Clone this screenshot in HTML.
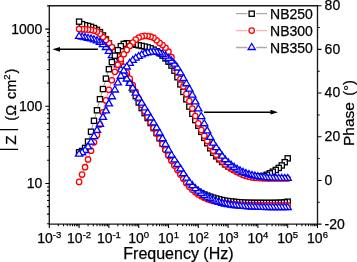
<!DOCTYPE html>
<html><head><meta charset="utf-8"><style>
html,body{margin:0;padding:0;background:#fff;}
svg{display:block;will-change:transform;}
text{font-family:"Liberation Sans",sans-serif;font-size:14px;fill:#000;stroke:#000;stroke-width:0.25px;}
</style></head><body>
<svg width="357" height="262" viewBox="0 0 357 262">
<rect width="357" height="262" fill="#fff"/>
<polyline points="79.10,21.64 82.08,24.11 85.06,25.30 88.04,25.99 91.02,26.84 94.00,28.09 96.98,29.85 99.96,32.16 102.94,35.45 105.92,39.43 108.90,43.50 111.88,48.17 114.86,53.23 117.84,59.11 120.82,65.10 123.80,70.80 126.78,76.55 129.76,82.71 132.74,89.35 135.72,96.08 138.70,102.44 141.68,108.09 144.66,113.19 147.64,118.07 150.62,123.05 153.60,128.11 156.58,133.16 159.56,138.25 162.54,143.43 165.52,148.69 168.50,153.82 171.48,158.67 174.46,163.28 177.44,167.75 180.42,172.12 183.40,176.70 186.38,181.17 189.36,184.87 192.34,187.54 195.32,189.75 198.30,191.59 201.28,193.13 204.26,194.48 207.24,195.67 210.22,196.73 213.20,197.67 216.18,198.52 219.16,199.33 222.14,200.06 225.12,200.67 228.10,201.11 231.08,201.46 234.06,201.79 237.04,202.08 240.02,202.34 243.00,202.55 245.98,202.70 248.96,202.79 251.94,202.82 254.92,202.84 257.90,202.86 260.88,202.88 263.86,202.89 266.84,202.90 269.82,202.90 272.80,202.88 275.78,202.83 278.76,202.74 281.74,202.61 284.72,202.31 287.70,201.67" fill="none" stroke="#a0a0a0" stroke-width="1"/>
<g fill="#fff" stroke="#000000" stroke-width="1.3"><rect x="285.10" y="199.07" width="5.2" height="5.2"/><rect x="282.12" y="199.71" width="5.2" height="5.2"/><rect x="279.14" y="200.01" width="5.2" height="5.2"/><rect x="276.16" y="200.14" width="5.2" height="5.2"/><rect x="273.18" y="200.23" width="5.2" height="5.2"/><rect x="270.20" y="200.28" width="5.2" height="5.2"/><rect x="267.22" y="200.30" width="5.2" height="5.2"/><rect x="264.24" y="200.30" width="5.2" height="5.2"/><rect x="261.26" y="200.29" width="5.2" height="5.2"/><rect x="258.28" y="200.28" width="5.2" height="5.2"/><rect x="255.30" y="200.26" width="5.2" height="5.2"/><rect x="252.32" y="200.24" width="5.2" height="5.2"/><rect x="249.34" y="200.22" width="5.2" height="5.2"/><rect x="246.36" y="200.19" width="5.2" height="5.2"/><rect x="243.38" y="200.10" width="5.2" height="5.2"/><rect x="240.40" y="199.95" width="5.2" height="5.2"/><rect x="237.42" y="199.74" width="5.2" height="5.2"/><rect x="234.44" y="199.48" width="5.2" height="5.2"/><rect x="231.46" y="199.19" width="5.2" height="5.2"/><rect x="228.48" y="198.86" width="5.2" height="5.2"/><rect x="225.50" y="198.51" width="5.2" height="5.2"/><rect x="222.52" y="198.07" width="5.2" height="5.2"/><rect x="219.54" y="197.46" width="5.2" height="5.2"/><rect x="216.56" y="196.73" width="5.2" height="5.2"/><rect x="213.58" y="195.92" width="5.2" height="5.2"/><rect x="210.60" y="195.07" width="5.2" height="5.2"/><rect x="207.62" y="194.13" width="5.2" height="5.2"/><rect x="204.64" y="193.07" width="5.2" height="5.2"/><rect x="201.66" y="191.88" width="5.2" height="5.2"/><rect x="198.68" y="190.53" width="5.2" height="5.2"/><rect x="195.70" y="188.99" width="5.2" height="5.2"/><rect x="192.72" y="187.15" width="5.2" height="5.2"/><rect x="189.74" y="184.94" width="5.2" height="5.2"/><rect x="186.76" y="182.27" width="5.2" height="5.2"/><rect x="183.78" y="178.57" width="5.2" height="5.2"/><rect x="180.80" y="174.10" width="5.2" height="5.2"/><rect x="177.82" y="169.52" width="5.2" height="5.2"/><rect x="174.84" y="165.15" width="5.2" height="5.2"/><rect x="171.86" y="160.68" width="5.2" height="5.2"/><rect x="168.88" y="156.07" width="5.2" height="5.2"/><rect x="165.90" y="151.22" width="5.2" height="5.2"/><rect x="162.92" y="146.09" width="5.2" height="5.2"/><rect x="159.94" y="140.83" width="5.2" height="5.2"/><rect x="156.96" y="135.65" width="5.2" height="5.2"/><rect x="153.98" y="130.56" width="5.2" height="5.2"/><rect x="151.00" y="125.51" width="5.2" height="5.2"/><rect x="148.02" y="120.45" width="5.2" height="5.2"/><rect x="145.04" y="115.47" width="5.2" height="5.2"/><rect x="142.06" y="110.59" width="5.2" height="5.2"/><rect x="139.08" y="105.49" width="5.2" height="5.2"/><rect x="136.10" y="99.84" width="5.2" height="5.2"/><rect x="133.12" y="93.48" width="5.2" height="5.2"/><rect x="130.14" y="86.75" width="5.2" height="5.2"/><rect x="127.16" y="80.11" width="5.2" height="5.2"/><rect x="124.18" y="73.95" width="5.2" height="5.2"/><rect x="121.20" y="68.20" width="5.2" height="5.2"/><rect x="118.22" y="62.50" width="5.2" height="5.2"/><rect x="115.24" y="56.51" width="5.2" height="5.2"/><rect x="112.26" y="50.63" width="5.2" height="5.2"/><rect x="109.28" y="45.57" width="5.2" height="5.2"/><rect x="106.30" y="40.90" width="5.2" height="5.2"/><rect x="103.32" y="36.83" width="5.2" height="5.2"/><rect x="100.34" y="32.85" width="5.2" height="5.2"/><rect x="97.36" y="29.56" width="5.2" height="5.2"/><rect x="94.38" y="27.25" width="5.2" height="5.2"/><rect x="91.40" y="25.49" width="5.2" height="5.2"/><rect x="88.42" y="24.24" width="5.2" height="5.2"/><rect x="85.44" y="23.39" width="5.2" height="5.2"/><rect x="82.46" y="22.70" width="5.2" height="5.2"/><rect x="79.48" y="21.51" width="5.2" height="5.2"/><rect x="76.50" y="19.04" width="5.2" height="5.2"/></g>
<polyline points="79.10,28.93 82.08,29.15 85.06,29.38 88.04,29.61 91.02,29.95 94.00,30.55 96.98,31.58 99.96,33.87 102.94,37.04 105.92,40.11 108.90,43.07 111.88,46.99 114.86,51.46 117.84,56.32 120.82,61.43 123.80,66.84 126.78,72.57 129.76,78.65 132.74,85.18 135.72,91.90 138.70,98.52 141.68,104.82 144.66,110.97 147.64,116.94 150.62,122.66 153.60,128.03 156.58,133.21 159.56,138.50 162.54,144.13 165.52,149.98 168.50,155.65 171.48,160.78 174.46,165.53 177.44,170.04 180.42,174.41 183.40,178.86 186.38,183.14 189.36,186.83 192.34,189.75 195.32,192.30 198.30,194.45 201.28,196.22 204.26,197.75 207.24,199.04 210.22,200.07 213.20,200.92 216.18,201.68 219.16,202.34 222.14,202.88 225.12,203.32 228.10,203.68 231.08,204.02 234.06,204.32 237.04,204.58 240.02,204.79 243.00,204.94 245.98,205.02 248.96,205.08 251.94,205.13 254.92,205.18 257.90,205.22 260.88,205.26 263.86,205.28 266.84,205.29 269.82,205.30 272.80,205.30 275.78,205.30 278.76,205.30 281.74,205.30 284.72,205.30 287.70,205.30" fill="none" stroke="#ff9a9a" stroke-width="1"/>
<g fill="#fff" stroke="#ff0000" stroke-width="1.3"><circle cx="287.70" cy="205.30" r="2.7"/><circle cx="284.72" cy="205.30" r="2.7"/><circle cx="281.74" cy="205.30" r="2.7"/><circle cx="278.76" cy="205.30" r="2.7"/><circle cx="275.78" cy="205.30" r="2.7"/><circle cx="272.80" cy="205.30" r="2.7"/><circle cx="269.82" cy="205.30" r="2.7"/><circle cx="266.84" cy="205.29" r="2.7"/><circle cx="263.86" cy="205.28" r="2.7"/><circle cx="260.88" cy="205.26" r="2.7"/><circle cx="257.90" cy="205.22" r="2.7"/><circle cx="254.92" cy="205.18" r="2.7"/><circle cx="251.94" cy="205.13" r="2.7"/><circle cx="248.96" cy="205.08" r="2.7"/><circle cx="245.98" cy="205.02" r="2.7"/><circle cx="243.00" cy="204.94" r="2.7"/><circle cx="240.02" cy="204.79" r="2.7"/><circle cx="237.04" cy="204.58" r="2.7"/><circle cx="234.06" cy="204.32" r="2.7"/><circle cx="231.08" cy="204.02" r="2.7"/><circle cx="228.10" cy="203.68" r="2.7"/><circle cx="225.12" cy="203.32" r="2.7"/><circle cx="222.14" cy="202.88" r="2.7"/><circle cx="219.16" cy="202.34" r="2.7"/><circle cx="216.18" cy="201.68" r="2.7"/><circle cx="213.20" cy="200.92" r="2.7"/><circle cx="210.22" cy="200.07" r="2.7"/><circle cx="207.24" cy="199.04" r="2.7"/><circle cx="204.26" cy="197.75" r="2.7"/><circle cx="201.28" cy="196.22" r="2.7"/><circle cx="198.30" cy="194.45" r="2.7"/><circle cx="195.32" cy="192.30" r="2.7"/><circle cx="192.34" cy="189.75" r="2.7"/><circle cx="189.36" cy="186.83" r="2.7"/><circle cx="186.38" cy="183.14" r="2.7"/><circle cx="183.40" cy="178.86" r="2.7"/><circle cx="180.42" cy="174.41" r="2.7"/><circle cx="177.44" cy="170.04" r="2.7"/><circle cx="174.46" cy="165.53" r="2.7"/><circle cx="171.48" cy="160.78" r="2.7"/><circle cx="168.50" cy="155.65" r="2.7"/><circle cx="165.52" cy="149.98" r="2.7"/><circle cx="162.54" cy="144.13" r="2.7"/><circle cx="159.56" cy="138.50" r="2.7"/><circle cx="156.58" cy="133.21" r="2.7"/><circle cx="153.60" cy="128.03" r="2.7"/><circle cx="150.62" cy="122.66" r="2.7"/><circle cx="147.64" cy="116.94" r="2.7"/><circle cx="144.66" cy="110.97" r="2.7"/><circle cx="141.68" cy="104.82" r="2.7"/><circle cx="138.70" cy="98.52" r="2.7"/><circle cx="135.72" cy="91.90" r="2.7"/><circle cx="132.74" cy="85.18" r="2.7"/><circle cx="129.76" cy="78.65" r="2.7"/><circle cx="126.78" cy="72.57" r="2.7"/><circle cx="123.80" cy="66.84" r="2.7"/><circle cx="120.82" cy="61.43" r="2.7"/><circle cx="117.84" cy="56.32" r="2.7"/><circle cx="114.86" cy="51.46" r="2.7"/><circle cx="111.88" cy="46.99" r="2.7"/><circle cx="108.90" cy="43.07" r="2.7"/><circle cx="105.92" cy="40.11" r="2.7"/><circle cx="102.94" cy="37.04" r="2.7"/><circle cx="99.96" cy="33.87" r="2.7"/><circle cx="96.98" cy="31.58" r="2.7"/><circle cx="94.00" cy="30.55" r="2.7"/><circle cx="91.02" cy="29.95" r="2.7"/><circle cx="88.04" cy="29.61" r="2.7"/><circle cx="85.06" cy="29.38" r="2.7"/><circle cx="82.08" cy="29.15" r="2.7"/><circle cx="79.10" cy="28.93" r="2.7"/></g>
<polyline points="79.10,36.47 82.08,37.02 85.06,37.61 88.04,38.24 91.02,38.95 94.00,39.78 96.98,40.84 99.96,42.37 102.94,44.64 105.92,47.52 108.90,51.29 111.88,55.72 114.86,60.23 117.84,64.94 120.82,69.85 123.80,74.63 126.78,79.01 129.76,83.43 132.74,88.19 135.72,93.14 138.70,98.14 141.68,103.07 144.66,107.96 147.64,112.87 150.62,117.84 153.60,122.80 156.58,127.83 159.56,133.01 162.54,138.57 165.52,144.43 168.50,150.14 171.48,155.27 174.46,159.97 177.44,164.47 180.42,168.94 183.40,173.60 186.38,178.18 189.36,182.24 192.34,185.59 195.32,188.58 198.30,191.19 201.28,193.42 204.26,195.39 207.24,197.12 210.22,198.60 213.20,199.95 216.18,201.23 219.16,202.36 222.14,203.31 225.12,204.02 228.10,204.58 231.08,205.08 234.06,205.52 237.04,205.90 240.02,206.22 243.00,206.47 245.98,206.66 248.96,206.82 251.94,206.98 254.92,207.12 257.90,207.25 260.88,207.35 263.86,207.43 266.84,207.48 269.82,207.50 272.80,207.50 275.78,207.50 278.76,207.50 281.74,207.50 284.72,207.50 287.70,207.50" fill="none" stroke="#a0a0a0" stroke-width="1"/>
<g fill="#fff" stroke="#0000ff" stroke-width="1.3"><path d="M287.70 203.50L291.30 209.50L284.10 209.50Z"/><path d="M284.72 203.50L288.32 209.50L281.12 209.50Z"/><path d="M281.74 203.50L285.34 209.50L278.14 209.50Z"/><path d="M278.76 203.50L282.36 209.50L275.16 209.50Z"/><path d="M275.78 203.50L279.38 209.50L272.18 209.50Z"/><path d="M272.80 203.50L276.40 209.50L269.20 209.50Z"/><path d="M269.82 203.50L273.42 209.50L266.22 209.50Z"/><path d="M266.84 203.48L270.44 209.48L263.24 209.48Z"/><path d="M263.86 203.43L267.46 209.43L260.26 209.43Z"/><path d="M260.88 203.35L264.48 209.35L257.28 209.35Z"/><path d="M257.90 203.25L261.50 209.25L254.30 209.25Z"/><path d="M254.92 203.12L258.52 209.12L251.32 209.12Z"/><path d="M251.94 202.98L255.54 208.98L248.34 208.98Z"/><path d="M248.96 202.82L252.56 208.82L245.36 208.82Z"/><path d="M245.98 202.66L249.58 208.66L242.38 208.66Z"/><path d="M243.00 202.47L246.60 208.47L239.40 208.47Z"/><path d="M240.02 202.22L243.62 208.22L236.42 208.22Z"/><path d="M237.04 201.90L240.64 207.90L233.44 207.90Z"/><path d="M234.06 201.52L237.66 207.52L230.46 207.52Z"/><path d="M231.08 201.08L234.68 207.08L227.48 207.08Z"/><path d="M228.10 200.58L231.70 206.58L224.50 206.58Z"/><path d="M225.12 200.02L228.72 206.02L221.52 206.02Z"/><path d="M222.14 199.31L225.74 205.31L218.54 205.31Z"/><path d="M219.16 198.36L222.76 204.36L215.56 204.36Z"/><path d="M216.18 197.23L219.78 203.23L212.58 203.23Z"/><path d="M213.20 195.95L216.80 201.95L209.60 201.95Z"/><path d="M210.22 194.60L213.82 200.60L206.62 200.60Z"/><path d="M207.24 193.12L210.84 199.12L203.64 199.12Z"/><path d="M204.26 191.39L207.86 197.39L200.66 197.39Z"/><path d="M201.28 189.42L204.88 195.42L197.68 195.42Z"/><path d="M198.30 187.19L201.90 193.19L194.70 193.19Z"/><path d="M195.32 184.58L198.92 190.58L191.72 190.58Z"/><path d="M192.34 181.59L195.94 187.59L188.74 187.59Z"/><path d="M189.36 178.24L192.96 184.24L185.76 184.24Z"/><path d="M186.38 174.18L189.98 180.18L182.78 180.18Z"/><path d="M183.40 169.60L187.00 175.60L179.80 175.60Z"/><path d="M180.42 164.94L184.02 170.94L176.82 170.94Z"/><path d="M177.44 160.47L181.04 166.47L173.84 166.47Z"/><path d="M174.46 155.97L178.06 161.97L170.86 161.97Z"/><path d="M171.48 151.27L175.08 157.27L167.88 157.27Z"/><path d="M168.50 146.14L172.10 152.14L164.90 152.14Z"/><path d="M165.52 140.43L169.12 146.43L161.92 146.43Z"/><path d="M162.54 134.57L166.14 140.57L158.94 140.57Z"/><path d="M159.56 129.01L163.16 135.01L155.96 135.01Z"/><path d="M156.58 123.83L160.18 129.83L152.98 129.83Z"/><path d="M153.60 118.80L157.20 124.80L150.00 124.80Z"/><path d="M150.62 113.84L154.22 119.84L147.02 119.84Z"/><path d="M147.64 108.87L151.24 114.87L144.04 114.87Z"/><path d="M144.66 103.96L148.26 109.96L141.06 109.96Z"/><path d="M141.68 99.07L145.28 105.07L138.08 105.07Z"/><path d="M138.70 94.14L142.30 100.14L135.10 100.14Z"/><path d="M135.72 89.14L139.32 95.14L132.12 95.14Z"/><path d="M132.74 84.19L136.34 90.19L129.14 90.19Z"/><path d="M129.76 79.43L133.36 85.43L126.16 85.43Z"/><path d="M126.78 75.01L130.38 81.01L123.18 81.01Z"/><path d="M123.80 70.63L127.40 76.63L120.20 76.63Z"/><path d="M120.82 65.85L124.42 71.85L117.22 71.85Z"/><path d="M117.84 60.94L121.44 66.94L114.24 66.94Z"/><path d="M114.86 56.23L118.46 62.23L111.26 62.23Z"/><path d="M111.88 51.72L115.48 57.72L108.28 57.72Z"/><path d="M108.90 47.29L112.50 53.29L105.30 53.29Z"/><path d="M105.92 43.52L109.52 49.52L102.32 49.52Z"/><path d="M102.94 40.64L106.54 46.64L99.34 46.64Z"/><path d="M99.96 38.37L103.56 44.37L96.36 44.37Z"/><path d="M96.98 36.84L100.58 42.84L93.38 42.84Z"/><path d="M94.00 35.78L97.60 41.78L90.40 41.78Z"/><path d="M91.02 34.95L94.62 40.95L87.42 40.95Z"/><path d="M88.04 34.24L91.64 40.24L84.44 40.24Z"/><path d="M85.06 33.61L88.66 39.61L81.46 39.61Z"/><path d="M82.08 33.02L85.68 39.02L78.48 39.02Z"/><path d="M79.10 32.47L82.70 38.47L75.50 38.47Z"/></g>
<polyline points="79.10,152.30 82.08,151.01 85.06,147.96 88.04,141.56 91.02,131.73 94.00,120.80 96.98,110.27 99.96,99.19 102.94,89.06 105.92,78.63 108.90,69.20 111.88,62.12 114.86,55.69 117.84,50.19 120.82,46.15 123.80,43.91 126.78,43.22 129.76,43.52 132.74,44.09 135.72,44.74 138.70,45.33 141.68,45.92 144.66,46.59 147.64,47.37 150.62,48.32 153.60,49.63 156.58,51.29 159.56,53.21 162.54,55.58 165.52,58.42 168.50,61.65 171.48,65.55 174.46,70.66 177.44,77.24 180.42,84.38 183.40,91.93 186.38,99.37 189.36,106.58 192.34,113.71 195.32,120.14 198.30,125.71 201.28,131.86 204.26,137.83 207.24,143.22 210.22,148.32 213.20,152.78 216.18,156.29 219.16,159.30 222.14,161.97 225.12,164.32 228.10,166.36 231.08,168.11 234.06,169.67 237.04,171.07 240.02,172.30 243.00,173.37 245.98,174.30 248.96,175.22 251.94,175.98 254.92,176.30 257.90,176.30 260.88,176.30 263.86,175.91 266.84,174.72 269.82,173.26 272.80,171.69 275.78,169.92 278.76,167.93 281.74,165.46 284.72,162.20 287.70,158.36" fill="none" stroke="#a0a0a0" stroke-width="1"/>
<g fill="#fff" stroke="#000000" stroke-width="1.3"><rect x="285.10" y="155.76" width="5.2" height="5.2"/><rect x="282.12" y="159.60" width="5.2" height="5.2"/><rect x="279.14" y="162.86" width="5.2" height="5.2"/><rect x="276.16" y="165.33" width="5.2" height="5.2"/><rect x="273.18" y="167.32" width="5.2" height="5.2"/><rect x="270.20" y="169.09" width="5.2" height="5.2"/><rect x="267.22" y="170.66" width="5.2" height="5.2"/><rect x="264.24" y="172.12" width="5.2" height="5.2"/><rect x="261.26" y="173.31" width="5.2" height="5.2"/><rect x="258.28" y="173.70" width="5.2" height="5.2"/><rect x="255.30" y="173.70" width="5.2" height="5.2"/><rect x="252.32" y="173.70" width="5.2" height="5.2"/><rect x="249.34" y="173.38" width="5.2" height="5.2"/><rect x="246.36" y="172.62" width="5.2" height="5.2"/><rect x="243.38" y="171.70" width="5.2" height="5.2"/><rect x="240.40" y="170.77" width="5.2" height="5.2"/><rect x="237.42" y="169.70" width="5.2" height="5.2"/><rect x="234.44" y="168.47" width="5.2" height="5.2"/><rect x="231.46" y="167.07" width="5.2" height="5.2"/><rect x="228.48" y="165.51" width="5.2" height="5.2"/><rect x="225.50" y="163.76" width="5.2" height="5.2"/><rect x="222.52" y="161.72" width="5.2" height="5.2"/><rect x="219.54" y="159.37" width="5.2" height="5.2"/><rect x="216.56" y="156.70" width="5.2" height="5.2"/><rect x="213.58" y="153.69" width="5.2" height="5.2"/><rect x="210.60" y="150.18" width="5.2" height="5.2"/><rect x="207.62" y="145.72" width="5.2" height="5.2"/><rect x="204.64" y="140.62" width="5.2" height="5.2"/><rect x="201.66" y="135.23" width="5.2" height="5.2"/><rect x="198.68" y="129.26" width="5.2" height="5.2"/><rect x="195.70" y="123.11" width="5.2" height="5.2"/><rect x="192.72" y="117.54" width="5.2" height="5.2"/><rect x="189.74" y="111.11" width="5.2" height="5.2"/><rect x="186.76" y="103.98" width="5.2" height="5.2"/><rect x="183.78" y="96.77" width="5.2" height="5.2"/><rect x="180.80" y="89.33" width="5.2" height="5.2"/><rect x="177.82" y="81.78" width="5.2" height="5.2"/><rect x="174.84" y="74.64" width="5.2" height="5.2"/><rect x="171.86" y="68.06" width="5.2" height="5.2"/><rect x="168.88" y="62.95" width="5.2" height="5.2"/><rect x="165.90" y="59.05" width="5.2" height="5.2"/><rect x="162.92" y="55.82" width="5.2" height="5.2"/><rect x="159.94" y="52.98" width="5.2" height="5.2"/><rect x="156.96" y="50.61" width="5.2" height="5.2"/><rect x="153.98" y="48.69" width="5.2" height="5.2"/><rect x="151.00" y="47.03" width="5.2" height="5.2"/><rect x="148.02" y="45.72" width="5.2" height="5.2"/><rect x="145.04" y="44.77" width="5.2" height="5.2"/><rect x="142.06" y="43.99" width="5.2" height="5.2"/><rect x="139.08" y="43.32" width="5.2" height="5.2"/><rect x="136.10" y="42.73" width="5.2" height="5.2"/><rect x="133.12" y="42.14" width="5.2" height="5.2"/><rect x="130.14" y="41.49" width="5.2" height="5.2"/><rect x="127.16" y="40.92" width="5.2" height="5.2"/><rect x="124.18" y="40.62" width="5.2" height="5.2"/><rect x="121.20" y="41.31" width="5.2" height="5.2"/><rect x="118.22" y="43.55" width="5.2" height="5.2"/><rect x="115.24" y="47.59" width="5.2" height="5.2"/><rect x="112.26" y="53.09" width="5.2" height="5.2"/><rect x="109.28" y="59.52" width="5.2" height="5.2"/><rect x="106.30" y="66.60" width="5.2" height="5.2"/><rect x="103.32" y="76.03" width="5.2" height="5.2"/><rect x="100.34" y="86.46" width="5.2" height="5.2"/><rect x="97.36" y="96.59" width="5.2" height="5.2"/><rect x="94.38" y="107.67" width="5.2" height="5.2"/><rect x="91.40" y="118.20" width="5.2" height="5.2"/><rect x="88.42" y="129.13" width="5.2" height="5.2"/><rect x="85.44" y="138.96" width="5.2" height="5.2"/><rect x="82.46" y="145.36" width="5.2" height="5.2"/><rect x="79.48" y="148.41" width="5.2" height="5.2"/><rect x="76.50" y="149.70" width="5.2" height="5.2"/></g>
<polyline points="79.10,181.90 82.08,174.55 85.06,167.20 88.04,159.47 91.02,150.74 94.00,142.30 96.98,134.98 99.96,124.61 102.94,112.34 105.92,100.42 108.90,89.80 111.88,80.26 114.86,71.84 117.84,64.72 120.82,59.12 123.80,54.25 126.78,49.89 129.76,45.95 132.74,42.62 135.72,39.65 138.70,37.60 141.68,36.42 144.66,35.81 147.64,36.03 150.62,36.70 153.60,37.81 156.58,40.25 159.56,42.88 162.54,45.06 165.52,47.75 168.50,51.72 171.48,57.22 174.46,64.67 177.44,71.93 180.42,79.17 183.40,86.44 186.38,93.88 189.36,101.17 192.34,108.50 195.32,115.99 198.30,123.39 201.28,130.08 204.26,135.73 207.24,140.94 210.22,146.07 213.20,150.74 216.18,154.81 219.16,158.39 222.14,161.58 225.12,164.35 228.10,166.60 231.08,168.55 234.06,170.28 237.04,171.90 240.02,173.48 243.00,174.89 245.98,175.98 248.96,176.76 251.94,177.40 254.92,177.79 257.90,178.02 260.88,178.21 263.86,178.36 266.84,178.46 269.82,178.50 272.80,178.50 275.78,178.50 278.76,178.50 281.74,178.50 284.72,178.50 287.70,178.50" fill="none" stroke="#ff9a9a" stroke-width="1"/>
<g fill="#fff" stroke="#ff0000" stroke-width="1.3"><circle cx="287.70" cy="178.50" r="2.7"/><circle cx="284.72" cy="178.50" r="2.7"/><circle cx="281.74" cy="178.50" r="2.7"/><circle cx="278.76" cy="178.50" r="2.7"/><circle cx="275.78" cy="178.50" r="2.7"/><circle cx="272.80" cy="178.50" r="2.7"/><circle cx="269.82" cy="178.50" r="2.7"/><circle cx="266.84" cy="178.46" r="2.7"/><circle cx="263.86" cy="178.36" r="2.7"/><circle cx="260.88" cy="178.21" r="2.7"/><circle cx="257.90" cy="178.02" r="2.7"/><circle cx="254.92" cy="177.79" r="2.7"/><circle cx="251.94" cy="177.40" r="2.7"/><circle cx="248.96" cy="176.76" r="2.7"/><circle cx="245.98" cy="175.98" r="2.7"/><circle cx="243.00" cy="174.89" r="2.7"/><circle cx="240.02" cy="173.48" r="2.7"/><circle cx="237.04" cy="171.90" r="2.7"/><circle cx="234.06" cy="170.28" r="2.7"/><circle cx="231.08" cy="168.55" r="2.7"/><circle cx="228.10" cy="166.60" r="2.7"/><circle cx="225.12" cy="164.35" r="2.7"/><circle cx="222.14" cy="161.58" r="2.7"/><circle cx="219.16" cy="158.39" r="2.7"/><circle cx="216.18" cy="154.81" r="2.7"/><circle cx="213.20" cy="150.74" r="2.7"/><circle cx="210.22" cy="146.07" r="2.7"/><circle cx="207.24" cy="140.94" r="2.7"/><circle cx="204.26" cy="135.73" r="2.7"/><circle cx="201.28" cy="130.08" r="2.7"/><circle cx="198.30" cy="123.39" r="2.7"/><circle cx="195.32" cy="115.99" r="2.7"/><circle cx="192.34" cy="108.50" r="2.7"/><circle cx="189.36" cy="101.17" r="2.7"/><circle cx="186.38" cy="93.88" r="2.7"/><circle cx="183.40" cy="86.44" r="2.7"/><circle cx="180.42" cy="79.17" r="2.7"/><circle cx="177.44" cy="71.93" r="2.7"/><circle cx="174.46" cy="64.67" r="2.7"/><circle cx="171.48" cy="57.22" r="2.7"/><circle cx="168.50" cy="51.72" r="2.7"/><circle cx="165.52" cy="47.75" r="2.7"/><circle cx="162.54" cy="45.06" r="2.7"/><circle cx="159.56" cy="42.88" r="2.7"/><circle cx="156.58" cy="40.25" r="2.7"/><circle cx="153.60" cy="37.81" r="2.7"/><circle cx="150.62" cy="36.70" r="2.7"/><circle cx="147.64" cy="36.03" r="2.7"/><circle cx="144.66" cy="35.81" r="2.7"/><circle cx="141.68" cy="36.42" r="2.7"/><circle cx="138.70" cy="37.60" r="2.7"/><circle cx="135.72" cy="39.65" r="2.7"/><circle cx="132.74" cy="42.62" r="2.7"/><circle cx="129.76" cy="45.95" r="2.7"/><circle cx="126.78" cy="49.89" r="2.7"/><circle cx="123.80" cy="54.25" r="2.7"/><circle cx="120.82" cy="59.12" r="2.7"/><circle cx="117.84" cy="64.72" r="2.7"/><circle cx="114.86" cy="71.84" r="2.7"/><circle cx="111.88" cy="80.26" r="2.7"/><circle cx="108.90" cy="89.80" r="2.7"/><circle cx="105.92" cy="100.42" r="2.7"/><circle cx="102.94" cy="112.34" r="2.7"/><circle cx="99.96" cy="124.61" r="2.7"/><circle cx="96.98" cy="134.98" r="2.7"/><circle cx="94.00" cy="142.30" r="2.7"/><circle cx="91.02" cy="150.74" r="2.7"/><circle cx="88.04" cy="159.47" r="2.7"/><circle cx="85.06" cy="167.20" r="2.7"/><circle cx="82.08" cy="174.55" r="2.7"/><circle cx="79.10" cy="181.90" r="2.7"/></g>
<polyline points="79.10,154.21 82.08,152.77 85.06,150.50 88.04,146.85 91.02,142.22 94.00,136.53 96.98,130.44 99.96,124.27 102.94,117.41 105.92,110.85 108.90,103.80 111.88,96.75 114.86,89.99 117.84,82.91 120.82,76.26 123.80,71.00 126.78,67.02 129.76,63.38 132.74,60.39 135.72,58.22 138.70,56.47 141.68,54.96 144.66,53.62 147.64,52.76 150.62,52.19 153.60,52.01 156.58,52.29 159.56,52.91 162.54,54.27 165.52,56.09 168.50,58.40 171.48,61.06 174.46,64.21 177.44,68.00 180.42,72.82 183.40,78.40 186.38,83.73 189.36,89.17 192.34,95.21 195.32,101.81 198.30,108.89 201.28,116.53 204.26,123.77 207.24,130.80 210.22,137.42 213.20,143.12 216.18,147.71 219.16,151.87 222.14,156.08 225.12,159.73 228.10,162.67 231.08,165.19 234.06,167.34 237.04,169.20 240.02,170.84 243.00,172.33 245.98,173.59 248.96,174.57 251.94,175.39 254.92,176.08 257.90,176.66 260.88,177.15 263.86,177.53 266.84,177.83 269.82,177.98 272.80,178.10 275.78,178.20 278.76,178.29 281.74,178.35 284.72,178.39 287.70,178.40" fill="none" stroke="#a0a0a0" stroke-width="1"/>
<g fill="#fff" stroke="#0000ff" stroke-width="1.3"><path d="M287.70 174.40L291.30 180.40L284.10 180.40Z"/><path d="M284.72 174.39L288.32 180.39L281.12 180.39Z"/><path d="M281.74 174.35L285.34 180.35L278.14 180.35Z"/><path d="M278.76 174.29L282.36 180.29L275.16 180.29Z"/><path d="M275.78 174.20L279.38 180.20L272.18 180.20Z"/><path d="M272.80 174.10L276.40 180.10L269.20 180.10Z"/><path d="M269.82 173.98L273.42 179.98L266.22 179.98Z"/><path d="M266.84 173.83L270.44 179.83L263.24 179.83Z"/><path d="M263.86 173.53L267.46 179.53L260.26 179.53Z"/><path d="M260.88 173.15L264.48 179.15L257.28 179.15Z"/><path d="M257.90 172.66L261.50 178.66L254.30 178.66Z"/><path d="M254.92 172.08L258.52 178.08L251.32 178.08Z"/><path d="M251.94 171.39L255.54 177.39L248.34 177.39Z"/><path d="M248.96 170.57L252.56 176.57L245.36 176.57Z"/><path d="M245.98 169.59L249.58 175.59L242.38 175.59Z"/><path d="M243.00 168.33L246.60 174.33L239.40 174.33Z"/><path d="M240.02 166.84L243.62 172.84L236.42 172.84Z"/><path d="M237.04 165.20L240.64 171.20L233.44 171.20Z"/><path d="M234.06 163.34L237.66 169.34L230.46 169.34Z"/><path d="M231.08 161.19L234.68 167.19L227.48 167.19Z"/><path d="M228.10 158.67L231.70 164.67L224.50 164.67Z"/><path d="M225.12 155.73L228.72 161.73L221.52 161.73Z"/><path d="M222.14 152.08L225.74 158.08L218.54 158.08Z"/><path d="M219.16 147.87L222.76 153.87L215.56 153.87Z"/><path d="M216.18 143.71L219.78 149.71L212.58 149.71Z"/><path d="M213.20 139.12L216.80 145.12L209.60 145.12Z"/><path d="M210.22 133.42L213.82 139.42L206.62 139.42Z"/><path d="M207.24 126.80L210.84 132.80L203.64 132.80Z"/><path d="M204.26 119.77L207.86 125.77L200.66 125.77Z"/><path d="M201.28 112.53L204.88 118.53L197.68 118.53Z"/><path d="M198.30 104.89L201.90 110.89L194.70 110.89Z"/><path d="M195.32 97.81L198.92 103.81L191.72 103.81Z"/><path d="M192.34 91.21L195.94 97.21L188.74 97.21Z"/><path d="M189.36 85.17L192.96 91.17L185.76 91.17Z"/><path d="M186.38 79.73L189.98 85.73L182.78 85.73Z"/><path d="M183.40 74.40L187.00 80.40L179.80 80.40Z"/><path d="M180.42 68.82L184.02 74.82L176.82 74.82Z"/><path d="M177.44 64.00L181.04 70.00L173.84 70.00Z"/><path d="M174.46 60.21L178.06 66.21L170.86 66.21Z"/><path d="M171.48 57.06L175.08 63.06L167.88 63.06Z"/><path d="M168.50 54.40L172.10 60.40L164.90 60.40Z"/><path d="M165.52 52.09L169.12 58.09L161.92 58.09Z"/><path d="M162.54 50.27L166.14 56.27L158.94 56.27Z"/><path d="M159.56 48.91L163.16 54.91L155.96 54.91Z"/><path d="M156.58 48.29L160.18 54.29L152.98 54.29Z"/><path d="M153.60 48.01L157.20 54.01L150.00 54.01Z"/><path d="M150.62 48.19L154.22 54.19L147.02 54.19Z"/><path d="M147.64 48.76L151.24 54.76L144.04 54.76Z"/><path d="M144.66 49.62L148.26 55.62L141.06 55.62Z"/><path d="M141.68 50.96L145.28 56.96L138.08 56.96Z"/><path d="M138.70 52.47L142.30 58.47L135.10 58.47Z"/><path d="M135.72 54.22L139.32 60.22L132.12 60.22Z"/><path d="M132.74 56.39L136.34 62.39L129.14 62.39Z"/><path d="M129.76 59.38L133.36 65.38L126.16 65.38Z"/><path d="M126.78 63.02L130.38 69.02L123.18 69.02Z"/><path d="M123.80 67.00L127.40 73.00L120.20 73.00Z"/><path d="M120.82 72.26L124.42 78.26L117.22 78.26Z"/><path d="M117.84 78.91L121.44 84.91L114.24 84.91Z"/><path d="M114.86 85.99L118.46 91.99L111.26 91.99Z"/><path d="M111.88 92.75L115.48 98.75L108.28 98.75Z"/><path d="M108.90 99.80L112.50 105.80L105.30 105.80Z"/><path d="M105.92 106.85L109.52 112.85L102.32 112.85Z"/><path d="M102.94 113.41L106.54 119.41L99.34 119.41Z"/><path d="M99.96 120.27L103.56 126.27L96.36 126.27Z"/><path d="M96.98 126.44L100.58 132.44L93.38 132.44Z"/><path d="M94.00 132.53L97.60 138.53L90.40 138.53Z"/><path d="M91.02 138.22L94.62 144.22L87.42 144.22Z"/><path d="M88.04 142.85L91.64 148.85L84.44 148.85Z"/><path d="M85.06 146.50L88.66 152.50L81.46 152.50Z"/><path d="M82.08 148.77L85.68 154.77L78.48 154.77Z"/><path d="M79.10 150.21L82.70 156.21L75.50 156.21Z"/></g>
<path d="M49.3 5.7H317.5V224.1H49.3Z" fill="none" stroke="#1a1a1a" stroke-width="1.35"/>
<path d="M49.30 224.1v4M58.27 224.1v2.2M63.52 224.1v2.2M67.24 224.1v2.2M70.13 224.1v2.2M72.49 224.1v2.2M74.48 224.1v2.2M76.21 224.1v2.2M77.74 224.1v2.2M79.10 224.1v4M88.07 224.1v2.2M93.32 224.1v2.2M97.04 224.1v2.2M99.93 224.1v2.2M102.29 224.1v2.2M104.28 224.1v2.2M106.01 224.1v2.2M107.54 224.1v2.2M108.90 224.1v4M117.87 224.1v2.2M123.12 224.1v2.2M126.84 224.1v2.2M129.73 224.1v2.2M132.09 224.1v2.2M134.08 224.1v2.2M135.81 224.1v2.2M137.34 224.1v2.2M138.70 224.1v4M147.67 224.1v2.2M152.92 224.1v2.2M156.64 224.1v2.2M159.53 224.1v2.2M161.89 224.1v2.2M163.88 224.1v2.2M165.61 224.1v2.2M167.14 224.1v2.2M168.50 224.1v4M177.47 224.1v2.2M182.72 224.1v2.2M186.44 224.1v2.2M189.33 224.1v2.2M191.69 224.1v2.2M193.68 224.1v2.2M195.41 224.1v2.2M196.94 224.1v2.2M198.30 224.1v4M207.27 224.1v2.2M212.52 224.1v2.2M216.24 224.1v2.2M219.13 224.1v2.2M221.49 224.1v2.2M223.48 224.1v2.2M225.21 224.1v2.2M226.74 224.1v2.2M228.10 224.1v4M237.07 224.1v2.2M242.32 224.1v2.2M246.04 224.1v2.2M248.93 224.1v2.2M251.29 224.1v2.2M253.28 224.1v2.2M255.01 224.1v2.2M256.54 224.1v2.2M257.90 224.1v4M266.87 224.1v2.2M272.12 224.1v2.2M275.84 224.1v2.2M278.73 224.1v2.2M281.09 224.1v2.2M283.08 224.1v2.2M284.81 224.1v2.2M286.34 224.1v2.2M287.70 224.1v4M296.67 224.1v2.2M301.92 224.1v2.2M305.64 224.1v2.2M308.53 224.1v2.2M310.89 224.1v2.2M312.88 224.1v2.2M314.61 224.1v2.2M316.14 224.1v2.2M317.50 224.1v4M49.3 223.74h-2.2M49.3 214.10h-2.2M49.3 206.62h-2.2M49.3 200.52h-2.2M49.3 195.35h-2.2M49.3 190.88h-2.2M49.3 186.93h-2.2M49.3 183.40h-4M49.3 160.18h-2.2M49.3 146.59h-2.2M49.3 136.95h-2.2M49.3 129.47h-2.2M49.3 123.37h-2.2M49.3 118.20h-2.2M49.3 113.73h-2.2M49.3 109.78h-2.2M49.3 106.25h-4M49.3 83.03h-2.2M49.3 69.44h-2.2M49.3 59.80h-2.2M49.3 52.32h-2.2M49.3 46.22h-2.2M49.3 41.05h-2.2M49.3 36.58h-2.2M49.3 32.63h-2.2M49.3 29.10h-4M49.3 5.88h-2.2M317.5 224.10h4M317.5 202.26h2.2M317.5 180.42h4M317.5 158.58h2.2M317.5 136.74h4M317.5 114.90h2.2M317.5 93.06h4M317.5 71.22h2.2M317.5 49.38h4M317.5 27.54h2.2M317.5 5.70h4" stroke="#000" stroke-width="1.05" fill="none"/>
<path d="M98 49.3H58" stroke="#000" stroke-width="1.4"/>
<path d="M52.4 49.3L60 46.9L60 51.7Z" fill="#000"/>
<path d="M204 112.2H272" stroke="#000" stroke-width="1.4"/>
<path d="M278 112.2L270.5 109.8L270.5 114.6Z" fill="#000"/>
<path d="M236 13.70H247.2M256.2 13.70H267" stroke="#ababab" stroke-width="1.3"/>
<g fill="#fff" stroke="#000" stroke-width="1.3"><rect x="249.10" y="11.10" width="5.2" height="5.2"/></g>
<text x="270.1" y="18.70">NB250</text>
<path d="M236 30.60H247.2M256.2 30.60H267" stroke="#ffb0b0" stroke-width="1.3"/>
<g fill="#fff" stroke="#f00" stroke-width="1.3"><circle cx="251.70" cy="30.60" r="2.7"/></g>
<text x="270.1" y="35.60">NB300</text>
<path d="M236 47.50H247.2M256.2 47.50H267" stroke="#ababab" stroke-width="1.3"/>
<g fill="#fff" stroke="#00f" stroke-width="1.3"><path d="M251.70 43.50L255.30 49.50L248.10 49.50Z"/></g>
<text x="270.1" y="52.50">NB350</text>
<text x="49.30" y="243" text-anchor="middle">10<tspan dy="-5" style="font-size:9.5px">-3</tspan></text>
<text x="79.10" y="243" text-anchor="middle">10<tspan dy="-5" style="font-size:9.5px">-2</tspan></text>
<text x="108.90" y="243" text-anchor="middle">10<tspan dy="-5" style="font-size:9.5px">-1</tspan></text>
<text x="138.70" y="243" text-anchor="middle">10<tspan dy="-5" style="font-size:9.5px">0</tspan></text>
<text x="168.50" y="243" text-anchor="middle">10<tspan dy="-5" style="font-size:9.5px">1</tspan></text>
<text x="198.30" y="243" text-anchor="middle">10<tspan dy="-5" style="font-size:9.5px">2</tspan></text>
<text x="228.10" y="243" text-anchor="middle">10<tspan dy="-5" style="font-size:9.5px">3</tspan></text>
<text x="257.90" y="243" text-anchor="middle">10<tspan dy="-5" style="font-size:9.5px">4</tspan></text>
<text x="287.70" y="243" text-anchor="middle">10<tspan dy="-5" style="font-size:9.5px">5</tspan></text>
<text x="317.50" y="243" text-anchor="middle">10<tspan dy="-5" style="font-size:9.5px">6</tspan></text>
<text x="42.3" y="33.70" text-anchor="end">1000</text>
<text x="42.3" y="110.85" text-anchor="end">100</text>
<text x="42.3" y="188.00" text-anchor="end">10</text>
<text x="324.6" y="228.50">-20</text>
<text x="324.6" y="184.82">0</text>
<text x="324.6" y="141.14">20</text>
<text x="324.6" y="97.46">40</text>
<text x="324.6" y="53.78">60</text>
<text x="324.6" y="10.10">80</text>
<text x="123.3" y="259.3" style="font-size:16px">Frequency (Hz)</text>
<path d="M-1 149.4H18.1M-1 129.6H18.1" stroke="#000" stroke-width="1.15"/>
<text transform="translate(15.9,140) rotate(-90)" style="font-size:15.5px" text-anchor="middle">Z</text>
<text transform="translate(15.7,120.7) rotate(-90)" style="font-size:14.5px">(&#937;<tspan dx="2"> cm</tspan><tspan dy="-6" style="font-size:9.5px">2</tspan><tspan dy="6" dx="0.8">)</tspan></text>
<text transform="translate(353.8,146) rotate(-90)" style="font-size:15.5px">Phase</text>
<text transform="translate(353.8,95.7) rotate(-90)" style="font-size:14.5px">(&#176;)</text>
</svg>
</body></html>
